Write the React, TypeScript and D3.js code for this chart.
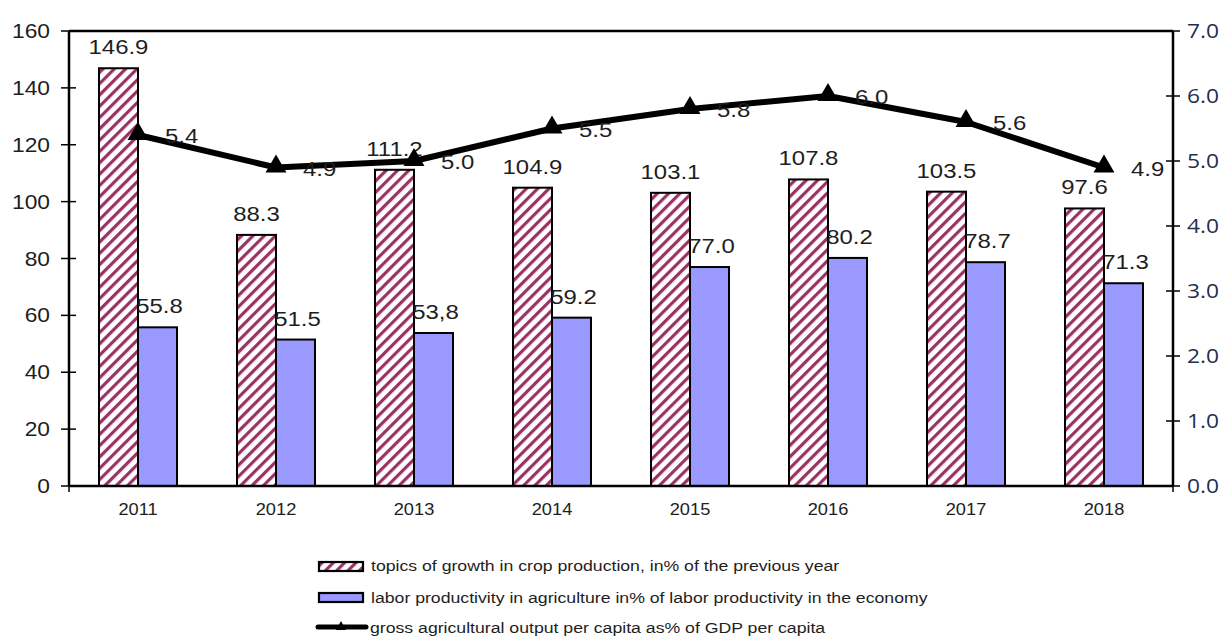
import React from "react";
import * as d3 from "d3";

const years = ["2011", "2012", "2013", "2014", "2015", "2016", "2017", "2018"];
const cropGrowth = [146.9, 88.3, 111.2, 104.9, 103.1, 107.8, 103.5, 97.6];
const laborProductivity = [55.8, 51.5, 53.8, 59.2, 77.0, 80.2, 78.7, 71.3];
const laborLabels = ["55.8", "51.5", "53,8", "59.2", "77.0", "80.2", "78.7", "71.3"];
const grossOutput = [5.4, 4.9, 5.0, 5.5, 5.8, 6.0, 5.6, 4.9];
const leftTicks = [0, 20, 40, 60, 80, 100, 120, 140, 160];
const rightTicks = [0, 1, 2, 3, 4, 5, 6, 7];
const legendLabels = [
  "topics of growth in crop production, in% of the previous year",
  "labor productivity in agriculture in% of labor productivity in the economy",
  "gross agricultural output per capita as% of GDP per capita",
];

const W = 1229;
const H = 637;
const left = 69;
const right = 1173;
const top = 31;
const bottom = 486;
const barW = 39;
const textColor = "#1e1e1e";
const font = "'Liberation Sans', Arial, sans-serif";
// glyphs are drawn slightly wide
const stretch = 1.14;

type LabelProps = {
  x: number;
  y: number;
  size: number;
  anchor?: "start" | "middle" | "end";
  fill?: string;
  family?: string;
  children: React.ReactNode;
};

function Label({ x, y, size, anchor = "start", fill = textColor, family, children }: LabelProps) {
  return (
    <text
      transform={`translate(${x},${y}) scale(${stretch},1)`}
      textAnchor={anchor}
      fontSize={size}
      fill={fill}
      fontFamily={family}
    >
      {children}
    </text>
  );
}

export default function App() {
  const x = d3.scaleBand<string>().domain(years).range([left, right]);
  const yL = d3.scaleLinear().domain([0, 160]).range([bottom, top]);
  const yR = d3.scaleLinear().domain([0, 7]).range([bottom, top]);
  const cx = (y: string) => (x(y) ?? 0) + x.bandwidth() / 2;

  const line = d3
    .line<number>()
    .x((_, i) => cx(years[i]))
    .y((d) => yR(d));

  const tri = d3.symbol().type(d3.symbolTriangle).size(190)();

  return (
    <svg
      width={W}
      height={H}
      style={{ position: "absolute", left: 0, top: 0, background: "#fff" }}
      fontFamily={font}
    >
      <defs>
        <pattern
          id="hatch"
          patternUnits="userSpaceOnUse"
          width={8}
          height={8}
          patternTransform="rotate(45)"
        >
          <rect width={8} height={8} fill="#fff" />
          <rect x={0} y={0} width={3.2} height={8} fill="#993366" />
        </pattern>
      </defs>

      {/* bars */}
      {years.map((yr, i) => (
        <g key={yr}>
          <rect
            x={cx(yr) - barW}
            y={yL(cropGrowth[i])}
            width={barW}
            height={bottom - yL(cropGrowth[i])}
            fill="url(#hatch)"
            stroke="#000"
            strokeWidth={2}
          />
          <rect
            x={cx(yr)}
            y={yL(laborProductivity[i])}
            width={barW}
            height={bottom - yL(laborProductivity[i])}
            fill="#9999ff"
            stroke="#000"
            strokeWidth={2}
          />
          <Label x={cx(yr) - barW / 2} y={yL(cropGrowth[i]) - 14} size={21} anchor="middle">
            {cropGrowth[i].toFixed(1)}
          </Label>
          <Label x={cx(yr) + barW / 2 + 2} y={yL(laborProductivity[i]) - 14} size={21} anchor="middle">
            {laborLabels[i]}
          </Label>
        </g>
      ))}

      {/* frame and axes */}
      <line x1={left} x2={right} y1={top} y2={top} stroke="#000" strokeWidth={2.5} />
      <line x1={left} x2={left} y1={top} y2={bottom} stroke="#000" strokeWidth={2.5} />
      <line x1={right} x2={right} y1={top} y2={bottom} stroke="#000" strokeWidth={2.5} />
      <line x1={left} x2={right} y1={bottom} y2={bottom} stroke="#000" strokeWidth={2.5} />
      <line x1={left} x2={left} y1={bottom} y2={bottom + 6} stroke="#000" strokeWidth={1.5} />
      <line x1={right} x2={right} y1={bottom} y2={bottom + 6} stroke="#000" strokeWidth={1.5} />

      {leftTicks.map((t) => (
        <g key={t}>
          <line x1={left - 8} x2={left + 7} y1={yL(t)} y2={yL(t)} stroke="#000" strokeWidth={1.5} />
          <Label x={50} y={yL(t) + 7} size={20} anchor="end">
            {t}
          </Label>
        </g>
      ))}

      {rightTicks.map((t) => (
        <g key={t}>
          <line x1={right - 7} x2={right + 7} y1={yR(t)} y2={yR(t)} stroke="#000" strokeWidth={1.5} />
          <Label
            x={1187}
            y={yR(t) + 7}
            size={20}
            fill="#1f3050"
            family="'Open Sans', 'Noto Sans', sans-serif"
          >
            {t.toFixed(1)}
          </Label>
        </g>
      ))}

      {years.map((yr) => (
        <Label key={yr} x={cx(yr)} y={bottom + 29} size={16} anchor="middle">
          {yr}
        </Label>
      ))}

      {/* gross output line */}
      <path d={line(grossOutput) ?? ""} fill="none" stroke="#000" strokeWidth={6} strokeLinejoin="round" />
      {grossOutput.map((v, i) => (
        <g key={i}>
          <path d={tri ?? ""} transform={`translate(${cx(years[i])},${yR(v) - 1})`} fill="#000" />
          <Label x={cx(years[i]) + 27} y={yR(v) + 8} size={21}>
            {v.toFixed(1)}
          </Label>
        </g>
      ))}

      {/* legend */}
      <g>
        <rect x={319} y={562} width={44} height={9} fill="url(#hatch)" stroke="#000" strokeWidth={2.2} />
        <Label x={371} y={571} size={15.5}>
          {legendLabels[0]}
        </Label>
        <rect x={319} y={593} width={44} height={9} fill="#9999ff" stroke="#000" strokeWidth={2.2} />
        <Label x={371} y={603} size={15.5}>
          {legendLabels[1]}
        </Label>
        <line x1={318} x2={366} y1={627} y2={627} stroke="#000" strokeWidth={5} strokeLinecap="round" />
        <path d={d3.symbol().type(d3.symbolTriangle).size(45)() ?? ""} transform="translate(341,627)" fill="#000" />
        <Label x={370} y={633} size={15.5}>
          {legendLabels[2]}
        </Label>
      </g>
    </svg>
  );
}
